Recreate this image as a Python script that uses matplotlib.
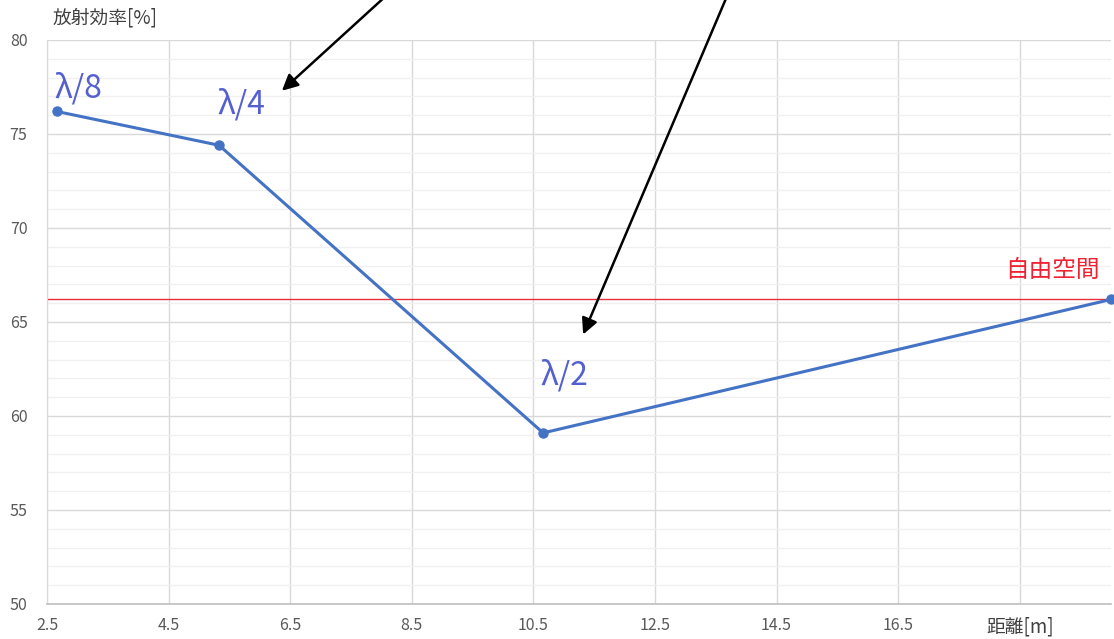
import numpy as np
import matplotlib.pyplot as plt
from matplotlib.ticker import MultipleLocator

plt.rcParams['font.family'] = ['Noto Sans CJK JP', 'DejaVu Sans']

# data
distance = [2.66, 5.33, 10.66, 20.0]     # [m]
efficiency = [76.2, 74.4, 59.1, 66.2]    # [%]
point_labels = ['λ/8', 'λ/4', 'λ/2']
label_pos = [(2.63, 76.95), (5.30, 76.1), (10.62, 61.65)]
free_space = 66.2
x_ticks = [2.5, 4.5, 6.5, 8.5, 10.5, 12.5, 14.5, 16.5, 18.5]
x_ticklabels = ['2.5', '4.5', '6.5', '8.5', '10.5', '12.5', '14.5', '16.5', '']
y_ticks = [50, 55, 60, 65, 70, 75, 80]

fig = plt.figure(figsize=(11.14, 6.39), dpi=100)
ax = fig.add_axes([47 / 1114, 1 - 604 / 639, 1064 / 1114, 564 / 639])

ax.set_xlim(2.5, 20.0)
ax.set_ylim(50, 80)
ax.set_xticks(x_ticks)
ax.set_xticklabels(x_ticklabels)
ax.set_yticks(y_ticks)
ax.yaxis.set_minor_locator(MultipleLocator(1))
ax.tick_params(axis='both', which='both', length=0, labelsize=11.5, colors='#595959')
ax.tick_params(axis='y', pad=14)
ax.tick_params(axis='x', pad=9)

ax.grid(True, which='major', color='#d9d9d9', lw=1.0)
ax.grid(True, which='minor', axis='y', color='#f0f0f0', lw=1.0)
ax.set_axisbelow(True)
for s in ['top', 'right']:
    ax.spines[s].set_visible(False)
ax.spines['left'].set_color('#d9d9d9')
ax.spines['bottom'].set_color('#bfbfbf')
ax.spines['bottom'].set_linewidth(1.2)

ax.axhline(free_space, color='#e8303a', lw=1.0, zorder=2)
ax.plot(distance, efficiency, color='#4472c4', lw=2.2, marker='o', ms=6.5,
        zorder=3, clip_on=False)

for lab, (x, y) in zip(point_labels, label_pos):
    ax.text(x, y, lab, color='#5560d0', fontsize=23, va='baseline', ha='left')
ax.text(19.82, 67.4, '自由空間', color='#ee2233', fontsize=17, va='baseline', ha='right')

ax.text(0.005, 1.039, '放射効率[%]', transform=ax.transAxes, fontsize=13.5,
        color='#404040', ha='left', va='center')
ax.text(18.5, -0.041, '距離[m]', transform=ax.get_xaxis_transform(), fontsize=13.5,
        color='#404040', ha='center', va='center')

# arrows coming in from above the plot
ax.annotate('', xy=(6.33, 77.2), xytext=(8.06, 82.3), annotation_clip=False,
            arrowprops=dict(arrowstyle='-|>', color='black', lw=1.8, mutation_scale=24))
ax.annotate('', xy=(11.3, 64.2), xytext=(13.68, 82.3), annotation_clip=False,
            arrowprops=dict(arrowstyle='-|>', color='black', lw=1.8, mutation_scale=24))

fig.savefig('out.png', dpi=100)
